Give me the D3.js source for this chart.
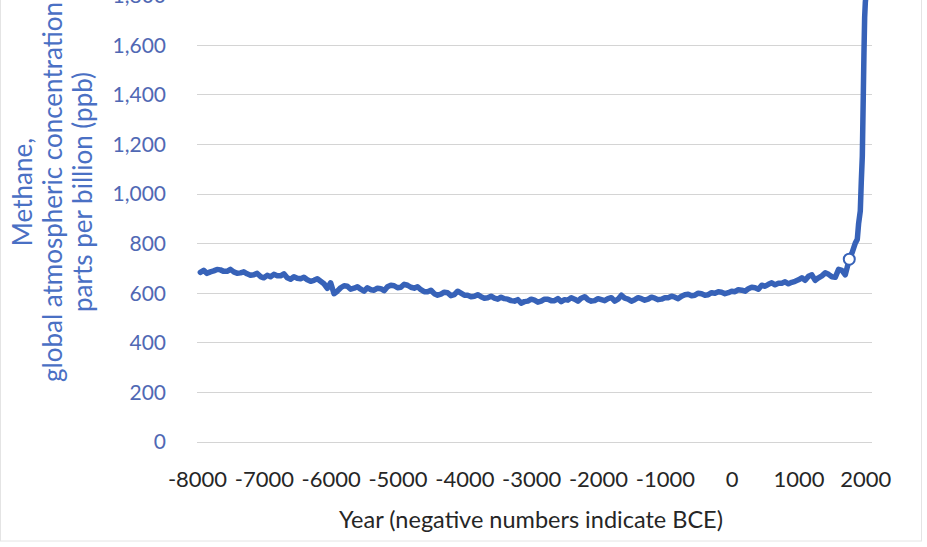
<!DOCTYPE html>
<html>
<head>
<meta charset="utf-8">
<script src="https://cdn.jsdelivr.net/npm/d3@7/dist/d3.min.js"></script>
<style>
  html, body { margin: 0; padding: 0; background: #ffffff; }
  svg { display: block; }
</style>
</head>
<body>
<svg id="chart" width="927" height="547"></svg>
<script>
// ---------- data ----------
const years = [
  -7950,-7900,-7850,-7800,-7750,-7700,-7650,-7600,-7550,-7500,
  -7450,-7400,-7350,-7300,-7250,-7200,-7150,-7100,-7050,-7000,
  -6950,-6900,-6850,-6800,-6750,-6700,-6650,-6600,-6550,-6500,
  -6450,-6400,-6350,-6300,-6250,-6200,-6150,-6100,-6050,-6000,
  -5950,-5900,-5850,-5800,-5750,-5700,-5650,-5600,-5550,-5500,
  -5450,-5400,-5350,-5300,-5250,-5200,-5150,-5100,-5050,-5000,
  -4950,-4900,-4850,-4800,-4750,-4700,-4650,-4600,-4550,-4500,
  -4450,-4400,-4350,-4300,-4250,-4200,-4150,-4100,-4050,-4000,
  -3950,-3900,-3850,-3800,-3750,-3700,-3650,-3600,-3550,-3500,
  -3450,-3400,-3350,-3300,-3250,-3200,-3150,-3100,-3050,-3000,
  -2950,-2900,-2850,-2800,-2750,-2700,-2650,-2600,-2550,-2500,
  -2450,-2400,-2350,-2300,-2250,-2200,-2150,-2100,-2050,-2000,
  -1950,-1900,-1850,-1800,-1750,-1700,-1650,-1600,-1550,-1500,
  -1450,-1400,-1350,-1300,-1250,-1200,-1150,-1100,-1050,-1000,
  -950,-900,-850,-800,-750,-700,-650,-600,-550,-500,
  -450,-400,-350,-300,-250,-200,-150,-100,-50,0,
  50,100,150,200,250,300,350,400,450,500,
  550,600,650,700,750,800,850,900,950,1000,
  1050,1100,1150,1200,1250,1300,1350,1400,1450,1500,
  1550,1600,1650,1700,1760,
  1800,1850,1880,1900,1925,1940,1955,1970,1980,1990,2000,2010,2019
];
const methane = [
  682,690,678,684,688,694,692,686,686,694,
  684,678,680,684,676,670,672,678,665,660,
  670,664,674,668,668,676,660,654,664,658,
  656,662,652,646,650,656,646,636,618,640,
  596,606,620,628,626,614,618,624,614,606,
  620,612,610,618,616,608,624,630,628,620,
  622,634,630,622,618,624,612,604,604,610,
  596,590,594,602,600,588,592,606,598,590,
  590,584,586,592,584,578,580,586,578,574,
  582,576,574,568,566,572,558,564,566,574,
  570,562,566,574,574,568,568,576,564,572,
  570,580,574,566,578,584,572,566,568,576,
  572,568,576,580,566,574,590,578,574,566,
  572,580,576,570,574,582,578,572,574,580,
  580,586,582,576,586,592,594,588,590,598,
  596,590,592,600,598,604,602,596,600,606,
  604,612,610,606,616,622,620,614,630,626,
  634,640,632,638,638,644,636,642,646,652,
  660,650,666,672,650,660,668,680,674,664,
  662,694,690,672,735,
  760,800,815,880,930,1050,1150,1400,1570,1710,1770,1800,1866
];
const markerPoint = { year: 1760, value: 735 };
const xTicks = [-8000,-7000,-6000,-5000,-4000,-3000,-2000,-1000,0,1000,2000];
const yTicks = [0,200,400,600,800,1000,1200,1400,1600,1800];
const yTitleLines = ["Methane,", "global atmospheric concentration", "parts per billion (ppb)"];
const xTitle = "Year (negative numbers indicate BCE)";

// ---------- layout ----------
const svg = d3.select("#chart");
const plotLeft = 197, plotRight = 872;
const x = d3.scaleLinear().domain([-8000, 2100]).range([plotLeft, plotRight]);
const y = d3.scaleLinear().domain([0, 1600]).range([441.5, 44.7]);
const font = "Lato, 'Open Sans', sans-serif";

// frame
svg.append("rect").attr("x", 0.5).attr("y", -2).attr("width", 921).attr("height", 543)
  .attr("fill", "#ffffff").attr("stroke", "#e4e4e4").attr("stroke-width", 1);

// gridlines
svg.append("g").selectAll("line").data(yTicks).join("line")
  .attr("x1", plotLeft).attr("x2", plotRight)
  .attr("y1", d => Math.round(y(d)) + 0.5).attr("y2", d => Math.round(y(d)) + 0.5)
  .attr("stroke", "#d4d4d4").attr("stroke-width", 1);

// y axis labels
const yAxis = d3.axisLeft(y).tickValues(yTicks).tickSize(0).tickPadding(0)
  .tickFormat(d3.format(","));
const gy = svg.append("g").attr("transform", "translate(166,0)").call(yAxis);
gy.select(".domain").remove();
gy.selectAll("text").attr("font-family", font).attr("font-size", 21)
  .attr("fill", "#5068b4").attr("dy", "0.35em");

// x axis labels
const xAxis = d3.axisBottom(x).tickValues(xTicks).tickSize(0).tickPadding(0)
  .tickFormat(d => String(d));
const gx = svg.append("g").attr("transform", "translate(0,471)").call(xAxis);
gx.select(".domain").remove();
gx.selectAll("text").attr("font-family", font).attr("font-size", 22)
  .attr("fill", "#262626").attr("dy", "0.71em");

// line
const line = d3.line().x((d, i) => x(years[i])).y(d => y(d)).curve(d3.curveLinear);
svg.append("path").datum(methane)
  .attr("d", line)
  .attr("fill", "none").attr("stroke", "#3762b8").attr("stroke-width", 5.5)
  .attr("stroke-linejoin", "round").attr("stroke-linecap", "round");

// marker
svg.append("circle")
  .attr("cx", x(markerPoint.year)).attr("cy", y(markerPoint.value)).attr("r", 5.5)
  .attr("fill", "#ffffff").attr("stroke", "#3762b8").attr("stroke-width", 2);

// y title
svg.append("g").selectAll("text").data(yTitleLines).join("text")
  .attr("transform", (d, i) => `translate(${22 + i * 30},192) rotate(-90)`)
  .attr("text-anchor", "middle").attr("dominant-baseline", "central")
  .attr("font-family", font).attr("font-size", 26).attr("fill", "#4a70c4")
  .text(d => d);

// x title
svg.append("text").attr("x", 531).attr("y", 528).attr("text-anchor", "middle")
  .attr("font-family", font).attr("font-size", 23.5).attr("fill", "#262626")
  .text(xTitle);
</script>
</body>
</html>
